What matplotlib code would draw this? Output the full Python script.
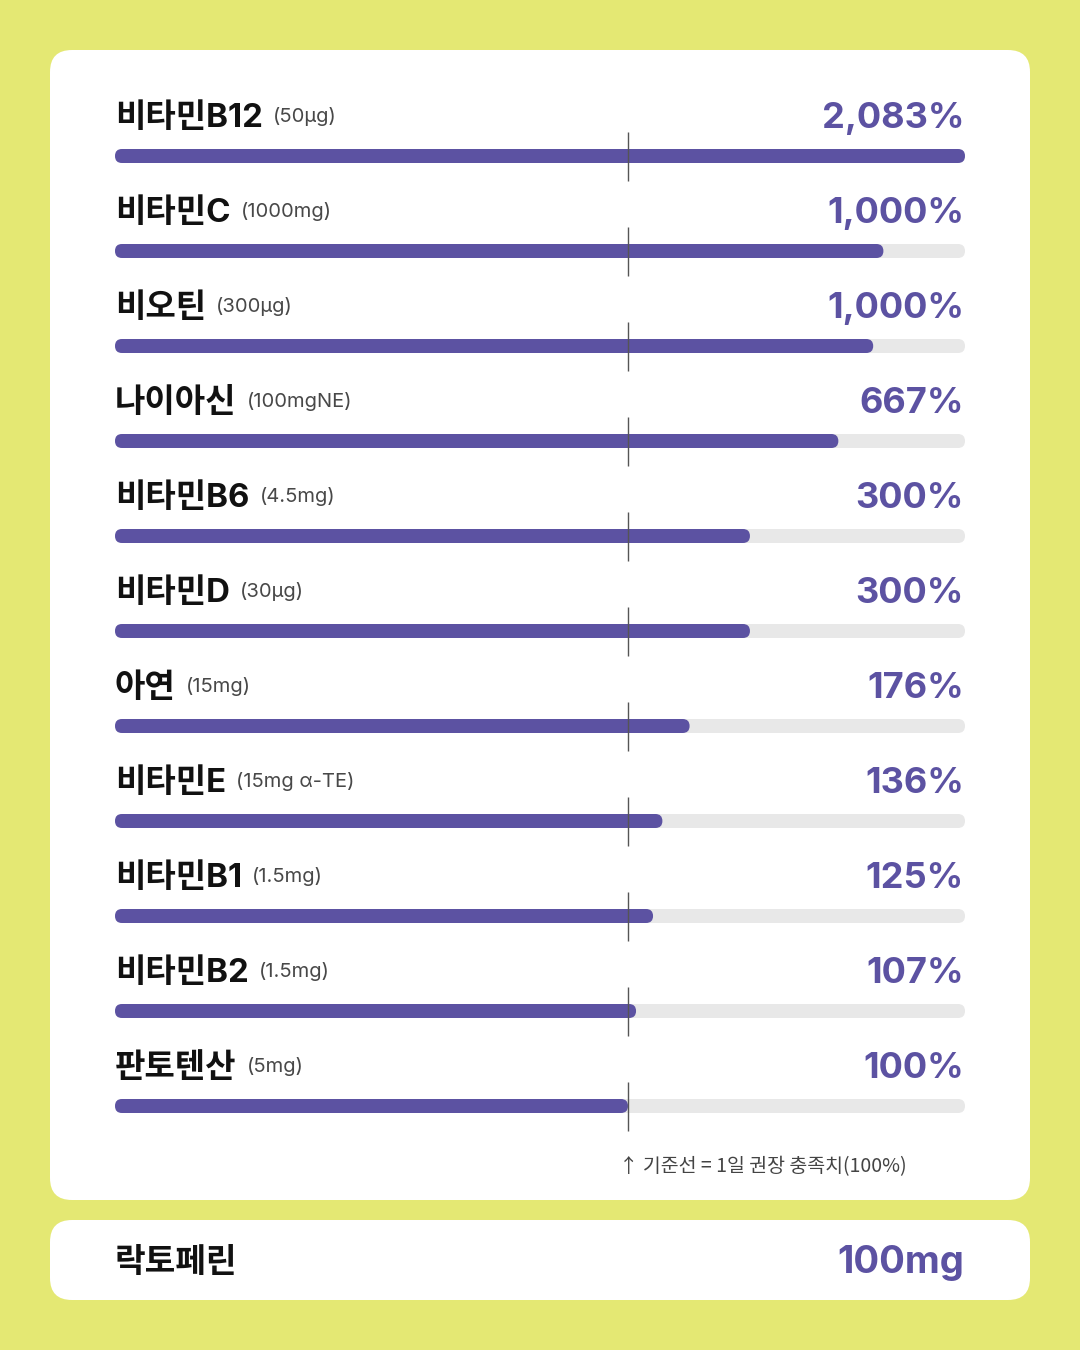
import matplotlib
matplotlib.use("Agg")
import matplotlib.pyplot as plt
from matplotlib.patches import FancyBboxPatch

plt.rcParams['font.family'] = ['Noto Sans CJK KR', 'DejaVu Sans']
LATIN = ['Inter', 'Noto Sans CJK KR', 'DejaVu Sans']

# nutrient rows, top to bottom
names = ['비타민B12', '비타민C', '비오틴', '나이아신', '비타민B6', '비타민D',
         '아연', '비타민E', '비타민B1', '비타민B2', '판토텐산']
units = ['(50μg)', '(1000mg)', '(300μg)', '(100mgNE)', '(4.5mg)', '(30μg)',
         '(15mg)', '(15mg α-TE)', '(1.5mg)', '(1.5mg)', '(5mg)']
pct_labels = ['2,083%', '1,000%', '1,000%', '667%', '300%', '300%',
              '176%', '136%', '125%', '107%', '100%']
# filled share of the track as drawn (not linear in %)
fill = [1.0, 0.904, 0.892, 0.851, 0.747, 0.747, 0.676, 0.644, 0.633, 0.613, 0.6035]
ref_fill = 0.6035  # 100% baseline position
footnote = '↑ 기준선 = 1일 권장 충족치(100%)'
extra_name = '락토페린'
extra_value = '100mg'

BG = '#E4E873'
PURPLE = '#5C52A2'
TRACK = '#E8E8E8'

fig = plt.figure(figsize=(10.8, 13.5), dpi=100)
fig.patch.set_facecolor(BG)
ax = fig.add_axes([0, 0, 1, 1])
ax.set_xlim(0, 1080)
ax.set_ylim(1350, 0)
ax.axis('off')

# cards
ax.add_patch(FancyBboxPatch((50, 50), 980, 1150, boxstyle='round,pad=0,rounding_size=22',
                            fc='white', ec='none'))
ax.add_patch(FancyBboxPatch((50, 1220), 980, 80, boxstyle='round,pad=0,rounding_size=22',
                            fc='white', ec='none'))

x0, w = 115, 850
bar_h = 14
row0, step = 156, 95
renderer = fig.canvas.get_renderer()

for i, (nm, un, pl, f) in enumerate(zip(names, units, pct_labels, fill)):
    cy = row0 + i * step
    # track + fill
    ax.add_patch(FancyBboxPatch((x0, cy - bar_h / 2), w, bar_h,
                                boxstyle='round,pad=0,rounding_size=7', fc=TRACK, ec='none'))
    ax.add_patch(FancyBboxPatch((x0, cy - bar_h / 2), w * f, bar_h,
                                boxstyle='round,pad=0,rounding_size=7', fc=PURPLE, ec='none'))
    # 100% reference tick
    ax.vlines(x0 + w * ref_fill, cy - 24, cy + 25, color='#555555', lw=1.0, zorder=5)

    t = ax.text(x0, cy - 29, nm, fontsize=23.8, fontweight='bold', color='#111111',
                ha='left', va='baseline', family=LATIN)
    bb = t.get_window_extent(renderer)
    ax.text(x0 + bb.width + 10, cy - 34, un, fontsize=14.5, color='#484848',
            ha='left', va='baseline', family=LATIN)
    ax.text(x0 + w - 1, cy - 28, pl, fontsize=26, fontweight='bold', color=PURPLE,
            ha='right', va='baseline', family=LATIN)

ax.text(x0 + w * ref_fill - 9, 1172, footnote, fontsize=14, color='#444444',
        ha='left', va='baseline')

ax.text(x0, 1272, extra_name, fontsize=24, fontweight='bold', color='#111111',
        ha='left', va='baseline')
ax.text(x0 + w - 1, 1273, extra_value, fontsize=27.5, fontweight='bold', color=PURPLE,
        ha='right', va='baseline', family=LATIN)

fig.savefig('out.png', dpi=100, facecolor=BG)
